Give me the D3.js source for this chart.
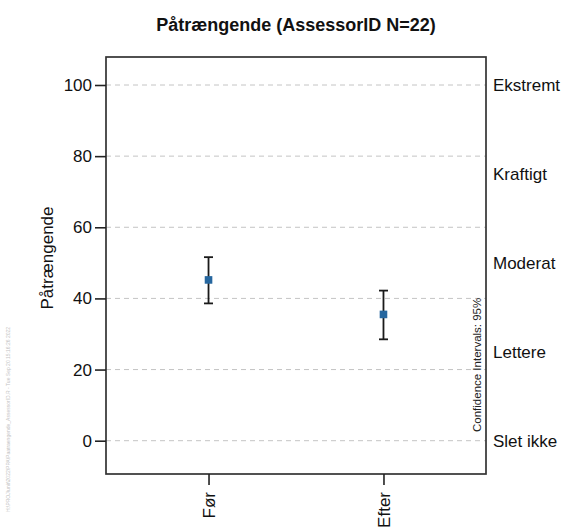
<!DOCTYPE html>
<html>
<head>
<meta charset="utf-8">
<script src="https://cdn.jsdelivr.net/npm/d3@7"></script>
<style>
  html, body { margin: 0; padding: 0; background: #fff; }
  svg { display: block; font-family: Arial, "Liberation Sans", sans-serif; }
</style>
</head>
<body>
<svg id="chart" width="577" height="530"></svg>
<script>
// Measurement occasions
const categories = ["Før", "Efter"];
// Mean score and 95% confidence limits per occasion
const means = [45.2, 35.5];
const ciLower = [38.6, 28.5];
const ciUpper = [51.6, 42.2];
// Left axis ticks
const yTicks = [0, 20, 40, 60, 80, 100];
// Verbal anchors on the right axis
const anchorValues = [0, 25, 50, 75, 100];
const anchorLabels = ["Slet ikke", "Lettere", "Moderat", "Kraftigt", "Ekstremt"];

const svg = d3.select("#chart");
const box = { left: 106, right: 486, top: 57, bottom: 474 };

const y = d3.scaleLinear().domain([0, 100]).range([440.7, 85]);
const x = d3.scalePoint().domain(categories)
  .range([box.left, box.right]).padding(0.586);

// Title
svg.append("text")
  .attr("x", (box.left + box.right) / 2).attr("y", 31)
  .attr("text-anchor", "middle")
  .attr("font-weight", "bold").attr("font-size", 18)
  .attr("fill", "#111")
  .text("Påtrængende (AssessorID N=22)");

// Dashed reference lines
svg.append("g").selectAll("line").data(yTicks).join("line")
  .attr("x1", box.left).attr("x2", box.right)
  .attr("y1", d => y(d)).attr("y2", d => y(d))
  .attr("stroke", "#c4c4c4").attr("stroke-width", 1)
  .attr("stroke-dasharray", "5,4");

// Plot frame
svg.append("rect")
  .attr("x", box.left).attr("y", box.top)
  .attr("width", box.right - box.left).attr("height", box.bottom - box.top)
  .attr("fill", "none").attr("stroke", "#333").attr("stroke-width", 1.7);

// Left axis
const yAxis = svg.append("g")
  .attr("transform", `translate(${box.left},0)`)
  .call(d3.axisLeft(y).tickValues(yTicks).tickSize(11).tickPadding(3));
yAxis.select(".domain").remove();
yAxis.selectAll(".tick line").attr("stroke", "#222").attr("stroke-width", 1.6);
yAxis.selectAll(".tick text").attr("font-size", 17).attr("fill", "#111")
  .attr("font-family", "Arial, 'Liberation Sans', sans-serif");

// Right axis with verbal anchors
const yRight = svg.append("g")
  .attr("transform", `translate(${box.right},0)`)
  .call(d3.axisRight(y).tickValues(anchorValues)
    .tickFormat(d => anchorLabels[anchorValues.indexOf(d)])
    .tickSize(0).tickPadding(7));
yRight.select(".domain").remove();
yRight.selectAll(".tick text").attr("font-size", 17).attr("fill", "#111")
  .attr("font-family", "Arial, 'Liberation Sans', sans-serif");

// Bottom axis
const xAxis = svg.append("g")
  .attr("transform", `translate(0,${box.bottom})`)
  .call(d3.axisBottom(x).tickSize(11).tickPadding(3));
xAxis.select(".domain").remove();
xAxis.selectAll(".tick line").attr("stroke", "#222").attr("stroke-width", 1.6);
xAxis.selectAll(".tick text")
  .attr("font-size", 17).attr("fill", "#111")
  .attr("font-family", "Arial, 'Liberation Sans', sans-serif")
  .attr("text-anchor", "end")
  .attr("dy", "0.35em")
  .attr("transform", "translate(0,4) rotate(-90)")
  .attr("x", -14).attr("y", 0);

// Left axis title
svg.append("text")
  .attr("transform", "translate(53,258) rotate(-90)")
  .attr("text-anchor", "middle")
  .attr("font-size", 17).attr("fill", "#111")
  .text("Påtrængende");

// Confidence note inside the frame
svg.append("text")
  .attr("transform", "translate(481,432) rotate(-90)")
  .attr("text-anchor", "start")
  .attr("font-size", 11.5).attr("fill", "#222")
  .text("Confidence Intervals: 95%");

// Error bars
const bars = svg.append("g").selectAll("g").data(categories).join("g");
bars.append("line")
  .attr("x1", d => x(d)).attr("x2", d => x(d))
  .attr("y1", (d, i) => y(ciLower[i])).attr("y2", (d, i) => y(ciUpper[i]))
  .attr("stroke", "#1a1a1a").attr("stroke-width", 1.8);
bars.append("line")
  .attr("x1", d => x(d) - 4.5).attr("x2", d => x(d) + 4.5)
  .attr("y1", (d, i) => y(ciUpper[i])).attr("y2", (d, i) => y(ciUpper[i]))
  .attr("stroke", "#1a1a1a").attr("stroke-width", 1.8);
bars.append("line")
  .attr("x1", d => x(d) - 4.5).attr("x2", d => x(d) + 4.5)
  .attr("y1", (d, i) => y(ciLower[i])).attr("y2", (d, i) => y(ciLower[i]))
  .attr("stroke", "#1a1a1a").attr("stroke-width", 1.8);
// Mean markers
bars.append("rect")
  .attr("x", d => x(d) - 3.8).attr("y", (d, i) => y(means[i]) - 3.8)
  .attr("width", 7.6).attr("height", 7.6)
  .attr("fill", "#26679f");

// Faint file stamp along the left edge
svg.append("text")
  .attr("transform", "translate(10,512) rotate(-90)")
  .attr("font-size", 5).attr("fill", "#c4c4c4")
  .text("H:\\PROJ\\unit\\2022\\PPA\\Paatraengende_AssessorID.R - Tue Sep 20 15:16:26 2022");
</script>
</body>
</html>
